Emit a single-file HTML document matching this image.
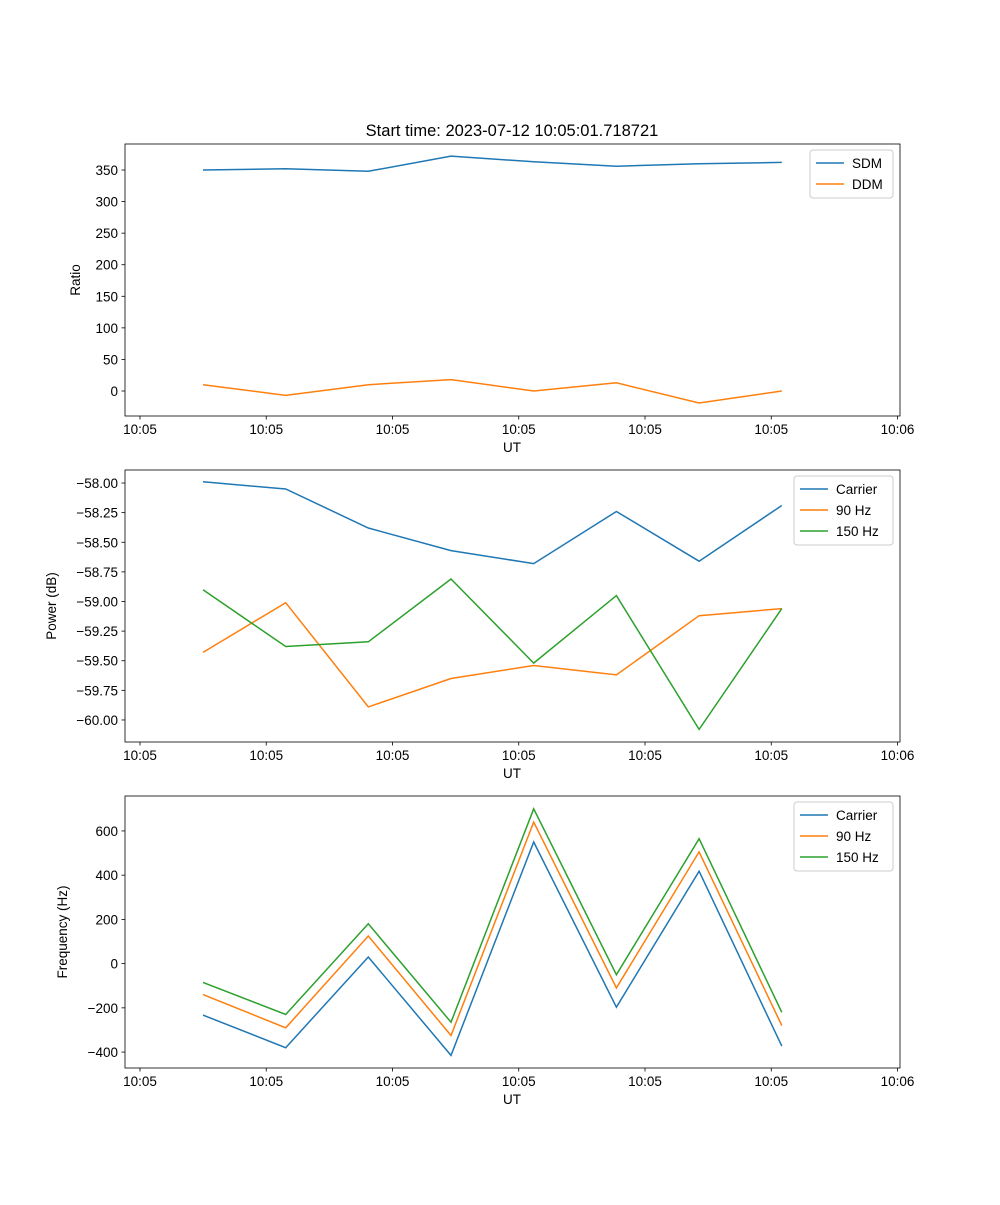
<!DOCTYPE html>
<html><head><meta charset="utf-8"><style>
body{margin:0;background:#fff;}
svg text{font-family:"Liberation Sans","DejaVu Sans",sans-serif;font-size:13.5px;fill:#000;}
</style></head><body>
<svg id="fig" width="1000" height="1200" xmlns="http://www.w3.org/2000/svg">
<rect width="1000" height="1200" fill="#fff"/>
<text x="512" y="136" text-anchor="middle" style="font-size:16.5px">Start time: 2023-07-12 10:05:01.718721</text>
</svg>
<script>
const xIdx=[0,1,2,3,4,5,6,7];
const xTickVals=[-0.762,0.765,2.292,3.819,5.346,6.873,8.4];
const xTickLabels=["10:05","10:05","10:05","10:05","10:05","10:05","10:06"];
const sdm=[350,352,348,372,363,356,360,362];
const ddm=[10,-7,10,18,0,13,-19,0];
const powCarrier=[-57.99,-58.05,-58.38,-58.57,-58.68,-58.24,-58.66,-58.19];
const pow90=[-59.43,-59.01,-59.89,-59.65,-59.54,-59.62,-59.12,-59.06];
const pow150=[-58.90,-59.38,-59.34,-58.81,-59.52,-58.95,-60.08,-59.06];
const frqCarrier=[-233,-380,30,-415,550,-197,418,-373];
const frq90=[-140,-290,125,-325,640,-110,505,-280];
const frq150=[-85,-230,180,-265,700,-50,565,-220];
const yTicks1=[0,50,100,150,200,250,300,350];
const yTicks2=[-58,-58.25,-58.5,-58.75,-59,-59.25,-59.5,-59.75,-60];
const yTicks3=[-400,-200,0,200,400,600];
const C=["#1f77b4","#ff7f0e","#2ca02c"];
const NS="http://www.w3.org/2000/svg";
const svg=document.getElementById('fig');
function mk(t,a,p){const e=document.createElementNS(NS,t);for(const k in a)e.setAttribute(k,a[k]);(p||svg).appendChild(e);return e;}
const L=125,R=900,xMin=-0.943,xMax=8.43;
function sx(v){return L+(v-xMin)/(xMax-xMin)*(R-L);}
function panel(name,top,bot,yMin,yMax,yTicks,fmt,ylabel,series,legW,legX){
  const g=mk('g',{});
  
  
  const sy=v=>bot-(v-yMin)/(yMax-yMin)*(bot-top);
  series.forEach((s,i)=>{
    const pts=s.vals.map((v,j)=>sx(xIdx[j]).toFixed(1)+','+sy(v).toFixed(1)).join(' ');
    const pl=mk('polyline',{points:pts,fill:'none',stroke:C[i],'stroke-width':1.5},g);
    
    
  });
  mk('rect',{x:L,y:top,width:R-L,height:bot-top,fill:'none',stroke:'#000','stroke-width':0.8},g);
  xTickVals.forEach((v,i)=>{
    const x=sx(v);
    mk('line',{x1:x,x2:x,y1:bot,y2:bot+3.5,stroke:'#000','stroke-width':0.8},g);
    const t=mk('text',{x:x,y:bot+18,'text-anchor':'middle'},g);t.textContent=xTickLabels[i];
    
    
  });
  const xl=mk('text',{x:512,y:bot+36,'text-anchor':'middle'},g);xl.textContent='UT';
  
  
  yTicks.forEach(v=>{
    const y=sy(v);
    mk('line',{x1:L,x2:L-3.5,y1:y,y2:y,stroke:'#000','stroke-width':0.8},g);
    const t=mk('text',{x:L-7,y:y+5,'text-anchor':'end'},g);t.textContent=fmt(v);
    
    
  });
  const cy=(top+bot)/2;
  const yl=mk('text',{x:0,y:0,'text-anchor':'middle',transform:`translate(${ylabel.x},${cy}) rotate(-90)`},g);yl.textContent=ylabel.t;
  
  
  const lg=mk('g',{},g);
  
  
  const lh=series.length*21+6;
  mk('rect',{x:legX,y:top+6,width:legW,height:lh,rx:3,fill:'#fff','fill-opacity':0.8,stroke:'#ccc'},lg);
  series.forEach((s,i)=>{
    const y=top+19+i*21;
    mk('line',{x1:legX+6,x2:legX+34,y1:y,y2:y,stroke:C[i],'stroke-width':1.5},lg);
    const t=mk('text',{x:legX+42,y:y+5},lg);t.textContent=s.label;
    
    
  });
}
const minus=s=>s.replace('-','\u2212');
panel('ratio-panel',144,416,-39.6,391.2,yTicks1,v=>minus(String(v)),{x:80,t:'Ratio'},
  [{key:'sdm',label:'SDM',vals:sdm},{key:'ddm',label:'DDM',vals:ddm}],83,810);
panel('power-panel',470,742,-60.186,-57.89,yTicks2,v=>minus(v.toFixed(2)),{x:56,t:'Power (dB)'},
  [{key:'carrier',label:'Carrier',vals:powCarrier},{key:'hz90',label:'90 Hz',vals:pow90},{key:'hz150',label:'150 Hz',vals:pow150}],99,794);
panel('frequency-panel',796,1068,-472,758,yTicks3,v=>minus(String(v)),{x:67,t:'Frequency (Hz)'},
  [{key:'carrier',label:'Carrier',vals:frqCarrier},{key:'hz90',label:'90 Hz',vals:frq90},{key:'hz150',label:'150 Hz',vals:frq150}],99,794);
</script>
</body></html>
